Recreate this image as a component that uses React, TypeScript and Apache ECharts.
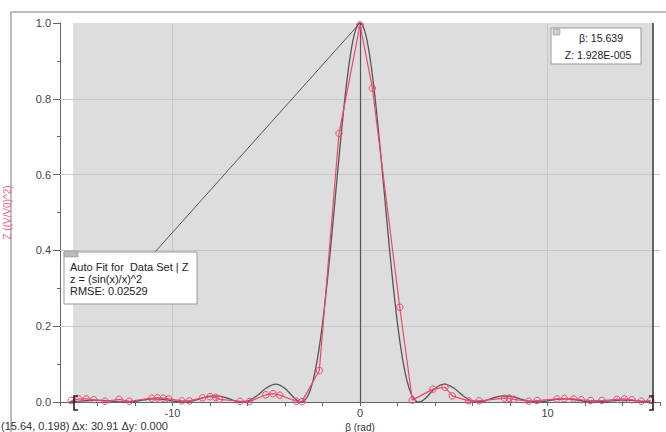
import React, { useEffect, useRef } from "react";
import * as echarts from "echarts";

// Fit curve z = (sin(x)/x)^2
const fitX = [-15.5, -15, -14.5, -14, -13.5, -13, -12.5, -12, -11.5, -11, -10.5, -10, -9.5, -9, -8.5, -8, -7.5, -7, -6.5, -6, -5.5, -5, -4.5, -4, -3.5, -3.25, -3.15, -3, -2.75, -2.5, -2.25, -2, -1.75, -1.5, -1.25, -1, -0.75, -0.5, -0.25, 0, 0.25, 0.5, 0.75, 1, 1.25, 1.5, 1.75, 2, 2.25, 2.5, 2.75, 3, 3.15, 3.25, 3.5, 4, 4.5, 5, 5.5, 6, 6.5, 7, 7.5, 8, 8.5, 9, 9.5, 10, 10.5, 11, 11.5, 12, 12.5, 13, 13.5, 14, 14.5, 15, 15.5];
const fitZ = [0.0002, 0.0019, 0.0042, 0.005, 0.0036, 0.001, 0.0, 0.002, 0.0058, 0.0083, 0.007, 0.003, 0.0001, 0.0021, 0.0088, 0.0153, 0.0156, 0.0088, 0.0011, 0.0022, 0.0165, 0.0368, 0.0472, 0.0358, 0.01, 0.0011, 0.0, 0.0022, 0.0193, 0.0573, 0.1196, 0.2067, 0.3162, 0.4422, 0.5764, 0.7081, 0.8261, 0.9194, 0.9793, 1.0, 0.9793, 0.9194, 0.8261, 0.7081, 0.5764, 0.4422, 0.3162, 0.2067, 0.1196, 0.0573, 0.0193, 0.0022, 0.0, 0.0011, 0.01, 0.0358, 0.0472, 0.0368, 0.0165, 0.0022, 0.0011, 0.0088, 0.0156, 0.0153, 0.0088, 0.0021, 0.0001, 0.003, 0.007, 0.0083, 0.0058, 0.002, 0.0, 0.001, 0.0036, 0.005, 0.0042, 0.0019, 0.0002];

// Measured data set (β in rad, Z)
const dataX = [-15.4, -15.0, -14.6, -14.2, -13.6, -12.85, -12.3, -11.1, -10.8, -10.5, -10.2, -9.5, -9.1, -8.4, -8.0, -7.7, -7.5, -6.4, -5.9, -5.03, -4.64, -4.28, -3.4, -3.1, -2.17, -1.12, 0.0, 0.66, 2.12, 2.79, 3.89, 4.53, 4.92, 5.8, 6.35, 7.7, 7.95, 8.2, 9.0, 9.45, 10.5, 10.9, 11.4, 11.8, 12.3, 12.9, 13.7, 14.1, 14.5, 15.0, 15.5];
const dataZ = [0.004, 0.008, 0.008, 0.006, 0.002, 0.007, 0.002, 0.01, 0.011, 0.01, 0.008, 0.003, 0.003, 0.011, 0.014, 0.012, 0.007, 0.002, 0.001, 0.019, 0.022, 0.018, 0.002, 0.001, 0.083, 0.709, 0.995, 0.828, 0.25, 0.005, 0.034, 0.039, 0.016, 0.003, 0.003, 0.01, 0.01, 0.007, 0.002, 0.004, 0.008, 0.009, 0.008, 0.006, 0.004, 0.004, 0.007, 0.008, 0.006, 0.002, 0.004];

const xRange = [-16, 16];
const yRange = [0, 1];
const selection = [-15.3, 15.6];
const yGrid = [0.2, 0.4, 0.6, 0.8];
const xGrid = [-10, 10];
const calloutFrom = [-10.93, 0.396];
const calloutTo = [0, 1];

const FONT = "Liberation Sans, Arial, sans-serif";
const RED = "#f0466e";

export default function App() {
  const ref = useRef<HTMLDivElement>(null);
  useEffect(() => {
    if (!ref.current) return;
    const chart = echarts.init(ref.current, undefined, { renderer: "svg" });
    const txt = (x: number, y: number, text: string, extra: any = {}) => ({
      type: "text",
      z: 101,
      silent: true,
      style: { x, y, text, fontSize: 11, fill: "#222", fontFamily: FONT, verticalAlign: "middle", ...extra },
    });
    const option: any = {
      animation: false,
      backgroundColor: "#ffffff",
      textStyle: { fontFamily: FONT },
      grid: { left: 60, right: 6, top: 23, bottom: 30, containLabel: false, outerBoundsMode: "none" },
      xAxis: {
        type: "value",
        min: xRange[0],
        max: xRange[1],
        interval: 2,
        name: "β (rad)",
        nameLocation: "middle",
        nameGap: 17,
        nameTextStyle: { fontSize: 10, color: "#333", fontFamily: FONT },
        axisLine: { show: true, onZero: false, lineStyle: { color: "#666", width: 1 } },
        axisTick: { show: true, length: 4, lineStyle: { color: "#666" } },
        axisLabel: {
          fontSize: 11,
          color: "#444",
          margin: 5,
          fontFamily: FONT,
          formatter: (v: number) => (Math.abs(v % 10) < 1e-9 ? String(v) : ""),
        },
        splitLine: { show: false },
      },
      yAxis: {
        type: "value",
        min: yRange[0],
        max: yRange[1],
        interval: 0.2,
        name: "Z ((V/V0)^2)",
        nameLocation: "middle",
        nameGap: 48,
        nameTextStyle: { fontSize: 10, color: "#f06088", fontFamily: FONT },
        axisLine: { show: true, onZero: false, lineStyle: { color: "#666", width: 1 } },
        axisTick: { show: true, length: 7, lineStyle: { color: "#666" } },
        minorTick: { show: true, splitNumber: 2, length: 3, lineStyle: { color: "#666" } },
        axisLabel: {
          fontSize: 11,
          color: "#444",
          margin: 9,
          fontFamily: FONT,
          formatter: (v: number) => v.toFixed(1),
        },
        splitLine: { show: false },
      },
      series: [
        {
          type: "line",
          name: "bg",
          data: [],
          silent: true,
          z: 1,
          markArea: {
            silent: true,
            z: 1,
            itemStyle: { color: "#dddddd" },
            data: [[{ xAxis: selection[0] }, { xAxis: selection[1] }]],
          },
          markLine: {
            silent: true,
            z: 1.5,
            symbol: ["none", "none"],
            label: { show: false },
            lineStyle: { color: "#c6c6c6", width: 1, type: "solid" },
            data: [
              ...yGrid.map((v) => ({ yAxis: v })),
              ...xGrid.map((v) => ({ xAxis: v })),
              { xAxis: 0, lineStyle: { color: "#555", width: 1.2, type: "solid" } },
              { xAxis: selection[1], lineStyle: { color: "#333", width: 1.5, type: "solid" } },
            ],
          },
        },
        {
          type: "line",
          name: "fit",
          data: fitX.map((x, i) => [x, fitZ[i]]),
          smooth: 0.35,
          showSymbol: false,
          silent: true,
          z: 2,
          lineStyle: { color: "#555555", width: 1.3 },
          itemStyle: { color: "#555555" },
          markLine: {
            silent: true,
            z: 5,
            symbol: ["none", "none"],
            label: { show: false },
            lineStyle: { color: "#555", width: 1, type: "solid" },
            data: [[{ coord: calloutFrom }, { coord: calloutTo }]],
          },
        },
        {
          type: "line",
          name: "Z",
          data: dataX.map((x, i) => [x, dataZ[i]]),
          symbol: "circle",
          symbolSize: 6.5,
          silent: true,
          z: 3,
          lineStyle: { color: RED, width: 1.2 },
          itemStyle: { color: "rgba(0,0,0,0)", borderColor: RED, borderWidth: 1 },
        },
      ],
      graphic: [
        {
          type: "rect",
          z: -10,
          silent: true,
          shape: { x: 11, y: 12, width: 720, height: 520 },
          style: { fill: "none", stroke: "#a8a8a8", lineWidth: 1.5 },
        },
        {
          type: "polyline",
          z: 100,
          silent: true,
          shape: { points: [[78, 396], [74, 396], [74, 410], [78, 410]] },
          style: { stroke: "#222", lineWidth: 1.6, fill: "none" },
        },
        {
          type: "polyline",
          z: 100,
          silent: true,
          shape: { points: [[649, 396], [653, 396], [653, 410], [649, 410]] },
          style: { stroke: "#222", lineWidth: 1.6, fill: "none" },
        },
        // Auto fit box
        {
          type: "rect",
          z: 100,
          silent: true,
          shape: { x: 64, y: 252, width: 133, height: 52 },
          style: { fill: "#ffffff", stroke: "#999", lineWidth: 1 },
        },
        {
          type: "rect",
          z: 101,
          silent: true,
          shape: { x: 64, y: 251, width: 14, height: 6 },
          style: { fill: "#bbbbbb", stroke: "#888", lineWidth: 0.5 },
        },
        txt(70, 267, "Auto Fit for  Data Set | Z"),
        txt(70, 279, "z = (sin(x)/x)^2"),
        txt(70, 291, "RMSE: 0.02529"),
        // readout box
        {
          type: "rect",
          z: 100,
          silent: true,
          shape: { x: 551, y: 28, width: 90, height: 36 },
          style: { fill: "#ffffff", stroke: "#999", lineWidth: 1 },
        },
        {
          type: "rect",
          z: 101,
          silent: true,
          shape: { x: 553, y: 29, width: 7, height: 6 },
          style: { fill: "#cccccc", stroke: "#888", lineWidth: 0.5 },
        },
        txt(601, 38, "β: 15.639", { align: "center", fontSize: 10.5 }),
        txt(598, 55, "Z: 1.928E-005", { align: "center", fontSize: 10.5 }),
        {
          type: "text",
          z: 100,
          silent: true,
          style: { x: 1, y: 420, text: "(15.64, 0.198) Δx: 30.91 Δy: 0.000", fontSize: 11, fill: "#333", fontFamily: FONT },
        },
      ],
    };
    chart.setOption(option);
    return () => chart.dispose();
  }, []);
  return (
    <div
      ref={ref}
      style={{ position: "fixed", left: 0, top: 0, width: 666, height: 432 }}
    />
  );
}
